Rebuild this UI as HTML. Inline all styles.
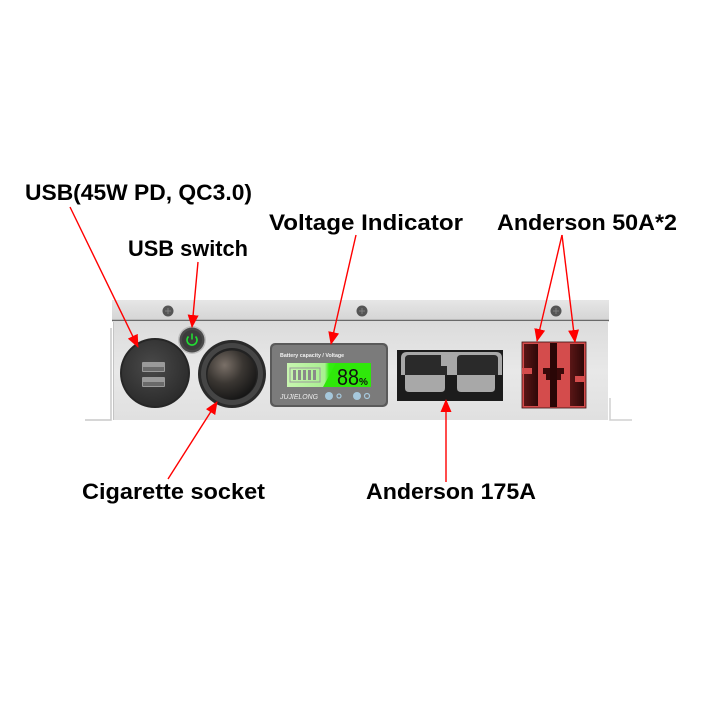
<!DOCTYPE html>
<html><head><meta charset="utf-8"><style>
html,body{margin:0;padding:0;background:#fff;}
svg{display:block;}
text{font-family:"Liberation Sans",sans-serif;}
</style></head><body>
<svg width="720" height="720" viewBox="0 0 720 720" xmlns="http://www.w3.org/2000/svg">
<defs>
<linearGradient id="strip" x1="0" y1="0" x2="0" y2="1"><stop offset="0" stop-color="#e6e6e6"/><stop offset="1" stop-color="#d4d4d4"/></linearGradient>
<linearGradient id="front" x1="0" y1="0" x2="0" y2="1"><stop offset="0" stop-color="#dcdcdc"/><stop offset="0.5" stop-color="#e8e8e8"/><stop offset="1" stop-color="#e0e0e0"/></linearGradient>
<radialGradient id="usbg" cx="0.45" cy="0.4" r="0.6"><stop offset="0" stop-color="#4a4a4a"/><stop offset="1" stop-color="#2c2c2c"/></radialGradient>
<radialGradient id="cig" cx="0.35" cy="0.3" r="0.75"><stop offset="0" stop-color="#7a7068"/><stop offset="0.5" stop-color="#3a3632"/><stop offset="1" stop-color="#151515"/></radialGradient>
<linearGradient id="lcd" x1="0" y1="0" x2="1" y2="0"><stop offset="0" stop-color="#c8f5b0"/><stop offset="0.45" stop-color="#a8f090"/><stop offset="0.5" stop-color="#33ee11"/><stop offset="1" stop-color="#22e000"/></linearGradient>
<linearGradient id="dred" x1="0" y1="0" x2="1" y2="0"><stop offset="0" stop-color="#5a1616"/><stop offset="1" stop-color="#2e0808"/></linearGradient>
<marker id="ah" markerUnits="userSpaceOnUse" markerWidth="13" markerHeight="11" refX="12" refY="5.5" orient="auto">
<path d="M0,0 L13,5.5 L0,11 z" fill="#ff0000"/></marker>
</defs>

<!-- brackets -->
<path d="M111,328 L111,420 L85,420" fill="none" stroke="#c8c8c8" stroke-width="1.5"/>
<path d="M610,398 L610,420 L632,420" fill="none" stroke="#d0d0d0" stroke-width="1.5"/>

<!-- top strip -->
<rect x="112" y="300" width="497" height="21" fill="url(#strip)"/>
<line x1="112" y1="320.5" x2="609" y2="320.5" stroke="#6a6a6a" stroke-width="1.5"/>
<g fill="#555">
<circle cx="168" cy="311" r="5.5"/><circle cx="362" cy="311" r="5.5"/><circle cx="556" cy="311" r="5.5"/>
</g>
<g stroke="#888" stroke-width="0.8">
<line x1="165" y1="311" x2="171" y2="311"/><line x1="168" y1="308" x2="168" y2="314"/>
<line x1="359" y1="311" x2="365" y2="311"/><line x1="362" y1="308" x2="362" y2="314"/>
<line x1="553" y1="311" x2="559" y2="311"/><line x1="556" y1="308" x2="556" y2="314"/>
</g>

<!-- front panel -->
<rect x="113" y="322" width="495" height="98" fill="url(#front)"/>
<line x1="113.5" y1="322" x2="113.5" y2="420" stroke="#c4c4c4"/>

<!-- USB port -->
<circle cx="155" cy="373" r="35" fill="#262626"/>
<circle cx="155" cy="373" r="33" fill="url(#usbg)"/>
<rect x="142" y="362" width="23" height="10" rx="1" fill="#9a9a9a"/>
<rect x="143" y="367" width="21" height="4" fill="#6a6a6a"/>
<rect x="142" y="377" width="23" height="10" rx="1" fill="#9a9a9a"/>
<rect x="143" y="382" width="21" height="4" fill="#6a6a6a"/>

<!-- power button -->
<circle cx="192" cy="340" r="14" fill="#bdbdbd"/>
<circle cx="192" cy="340" r="12.5" fill="#4a4a4a"/>
<circle cx="192" cy="340" r="10" fill="#3c3c3c"/>
<path d="M188.5,336.5 A5,5 0 1 0 195.5,336.5" fill="none" stroke="#22dd33" stroke-width="1.6"/>
<line x1="192" y1="333.5" x2="192" y2="339.5" stroke="#22dd33" stroke-width="1.6"/>

<!-- cigarette socket -->
<circle cx="232" cy="374" r="34" fill="#2a2a2a"/>
<circle cx="232" cy="374" r="31" fill="#454545"/>
<circle cx="232" cy="374" r="26" fill="#222"/>
<circle cx="232" cy="375" r="24.5" fill="url(#cig)"/>

<!-- LCD -->
<rect x="270" y="343" width="118" height="64" rx="5" fill="#5a5a5a"/>
<rect x="272" y="345" width="114" height="60" rx="4" fill="#7b7b7b"/>
<text x="280" y="357" font-size="5.3" font-weight="bold" fill="#f2f2f2">Battery capacity / Voltage</text>
<rect x="287" y="363" width="84" height="24" fill="url(#lcd)"/>
<polygon points="323,387 336,363 371,363 371,387" fill="#2fe80a"/>
<rect x="290" y="368" width="30" height="14" fill="none" stroke="#9a9a9a" stroke-width="1"/>
<g fill="#8a8a8a"><rect x="293" y="370" width="3" height="10"/><rect x="298" y="370" width="3" height="10"/><rect x="303" y="370" width="3" height="10"/><rect x="308" y="370" width="3" height="10"/><rect x="313" y="370" width="3" height="10"/></g>
<text x="337" y="385" font-size="23" fill="#111" font-family="Liberation Mono, monospace" textLength="22" lengthAdjust="spacingAndGlyphs">88</text>
<text x="359" y="385" font-size="10" font-weight="bold" fill="#111">%</text>
<text x="280" y="399" font-size="7" font-style="italic" fill="#eee" textLength="38" lengthAdjust="spacingAndGlyphs">JUJIELONG</text>
<circle cx="329" cy="396" r="4" fill="#a6c8dc"/>
<circle cx="339" cy="396" r="2" fill="none" stroke="#a6c8dc" stroke-width="1.2"/>
<circle cx="357" cy="396" r="4" fill="#a6c8dc"/>
<circle cx="367" cy="396" r="2.5" fill="none" stroke="#a6c8dc" stroke-width="1.2"/>

<!-- Anderson 175A -->
<rect x="397" y="350" width="106" height="51" fill="#1c1c1c"/>
<path d="M401,375 L401,358 Q401,352 407,352 L496,352 Q502,352 502,358 L502,375 Z" fill="#a8a8a8"/>
<path d="M405,375 L405,359 Q405,355 409,355 L441,355 L441,366 L447,366 L447,375 Z" fill="#2a2a2a"/>
<path d="M457,375 L457,359 Q457,355 461,355 L494,355 Q498,355 498,359 L498,375 Z" fill="#2a2a2a"/>
<path d="M405,375 L445,375 L445,388 Q445,392 441,392 L409,392 Q405,392 405,388 Z" fill="#a8a8a8"/>
<path d="M457,375 L495,375 L495,388 Q495,392 491,392 L461,392 Q457,392 457,388 Z" fill="#a8a8a8"/>

<!-- Anderson 50A x2 -->
<rect x="522" y="342" width="64" height="66" fill="#d44c4c" stroke="#3a1010" stroke-width="0.8"/>
<rect x="524" y="344" width="14" height="62" fill="url(#dred)"/>
<rect x="570" y="344" width="14" height="62" fill="url(#dred)"/>
<rect x="550" y="343" width="7" height="64" fill="#2a0606"/>
<rect x="538" y="343" width="12" height="64" fill="#d44c4c"/>
<rect x="557" y="343" width="12" height="64" fill="#d44c4c"/>
<path d="M543,368 L550,368 L550,380 L546,380 L546,374 L543,374 Z" fill="#3a0a0a"/>
<path d="M564,368 L557,368 L557,380 L561,380 L561,374 L564,374 Z" fill="#3a0a0a"/>
<rect x="522" y="368" width="10" height="6" fill="#d44c4c"/>
<rect x="575" y="376" width="10" height="6" fill="#d44c4c"/>

<!-- arrows -->
<g stroke="#ff0000" stroke-width="1.4" fill="none" marker-end="url(#ah)">
<line x1="70" y1="207" x2="138" y2="347"/>
<line x1="198" y1="262" x2="192" y2="327"/>
<line x1="356" y1="235" x2="331" y2="344"/>
<line x1="562" y1="235" x2="537" y2="341"/>
<line x1="562" y1="235" x2="575" y2="342"/>
<line x1="168" y1="479" x2="217" y2="402"/>
<line x1="446" y1="482" x2="446" y2="400"/>
</g>

<!-- labels -->
<g font-weight="bold" font-size="22" fill="#000">
<text x="25" y="200" textLength="227" lengthAdjust="spacingAndGlyphs">USB(45W PD, QC3.0)</text>
<text x="128" y="256" textLength="120" lengthAdjust="spacingAndGlyphs">USB switch</text>
<text x="269" y="230" textLength="194" lengthAdjust="spacingAndGlyphs">Voltage Indicator</text>
<text x="497" y="230" textLength="180" lengthAdjust="spacingAndGlyphs">Anderson 50A*2</text>
<text x="82" y="499" textLength="183" lengthAdjust="spacingAndGlyphs">Cigarette socket</text>
<text x="366" y="499" textLength="170" lengthAdjust="spacingAndGlyphs">Anderson 175A</text>
</g>
</svg>
</body></html>
